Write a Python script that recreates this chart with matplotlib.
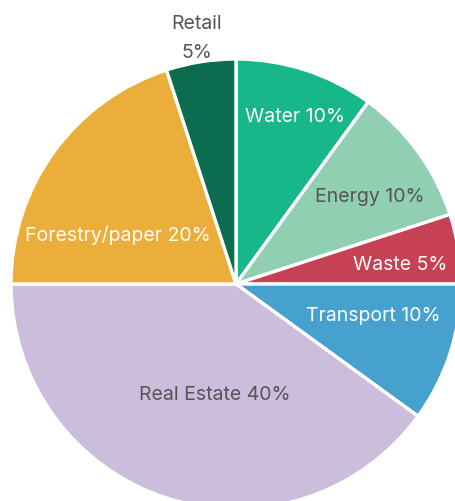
import matplotlib
matplotlib.use("Agg")
import matplotlib.pyplot as plt
import numpy as np

categories = ["Water", "Energy", "Waste", "Transport", "Real Estate", "Forestry/paper", "Retail"]
shares = [10, 10, 5, 10, 40, 20, 5]
colors = ["#17B78A", "#91CFB2", "#C64153", "#46A1CF", "#CBBDDC", "#ECAE3A", "#0C6C4F"]
text_colors = ["white", "#555555", "white", "white", "#555555", "white", "#555555"]
# label placement (angle in degrees, radius as fraction of pie radius)
label_pos = [(70.5, 0.79), (33.3, 0.713), (7, 0.735), (-12.7, 0.625), (-101, 0.50), (157, 0.57), (99, 1.11)]

plt.rcParams['font.family'] = ['Inter', 'DejaVu Sans']

W, H, dpi = 456, 502, 100
fig = plt.figure(figsize=(W / dpi, H / dpi), dpi=dpi)
ax = fig.add_axes([0, 0, 1, 1])
R = 225.0
cx, cy = 236.0, 285.0

ax.pie(shares, colors=colors, startangle=90, counterclock=False, radius=1,
       wedgeprops=dict(edgecolor='white', linewidth=2.4), frame=True)
ax.set_xlim(-cx / R, (W - cx) / R)
ax.set_ylim(-(H - cy) / R, cy / R)
ax.set_aspect('equal')
ax.axis('off')

for cat, s, tc, (ang, r) in zip(categories, shares, text_colors, label_pos):
    x = r * np.cos(np.radians(ang))
    y = r * np.sin(np.radians(ang))
    if cat == "Retail":
        txt = f"{cat}\n{s}%"
    else:
        txt = f"{cat} {s}%"
    ax.text(x, y, txt, ha='center', va='center', color=tc, fontsize=14,
            linespacing=1.75)

fig.savefig("out.png", dpi=dpi)
